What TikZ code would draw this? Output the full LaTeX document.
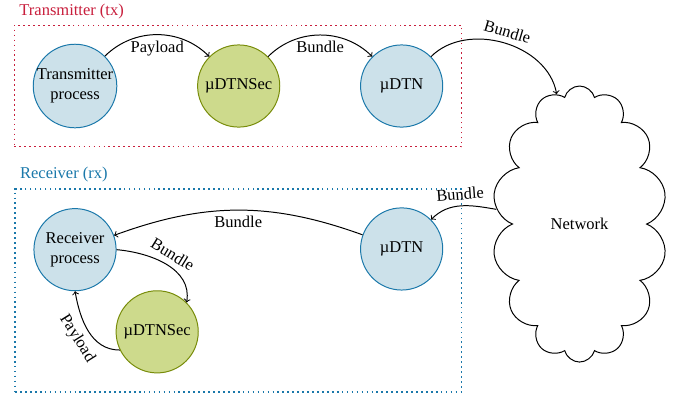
\documentclass[tikz,border=0pt]{standalone}
\usepackage{fontspec}
\setmainfont{Liberation Serif}
\usepackage{xcolor}
\usepackage{tikz}
\usetikzlibrary{positioning, shapes.symbols, fit, backgrounds}
\definecolor{tred}{RGB}{200,30,60}
\definecolor{tblue}{RGB}{26,120,170}
\definecolor{tbluelight}{RGB}{204,225,234}
\definecolor{tolive}{RGB}{120,140,10}
\definecolor{tolivelight}{RGB}{205,218,140}

\begin{document}
\begin{tikzpicture}[
  font=\normalsize,
  procnode/.style={circle, draw=tblue, fill=tbluelight, semithick,
                   minimum size=1.75cm, inner sep=0pt, align=center},
  secnode/.style={procnode, draw=tolive, fill=tolivelight},
  zone/.style={draw=#1, dotted, line width=1pt, inner sep=0.39cm},
  zonelab/.style={anchor=south west, text=#1},
  flow/.style={->, semithick}
]
\useasboundingbox (-1.598,1.832) rectangle (12.908,-6.539);

% ---- Transmitter side ----
\node[procnode] (tp) at (0,0) {Transmitter\\process};
\node[secnode, right=1.7cm of tp] (tsec) {µDTNSec};
\node[procnode, right=1.7cm of tsec] (tdtn) {µDTN};

% ---- Receiver side ----
\node[procnode, below=1.7cm of tp] (rp) {Receiver\\process};
\node[procnode, below=1.7cm of tdtn] (rdtn) {µDTN};
\node[secnode, on grid, below right=1.75cm and 1.75cm of rp] (rsec) {µDTNSec};

% ---- Network cloud ----
\node[cloud, draw, semithick, cloud puffs=14, cloud ignores aspect,
      minimum width=3.73cm, minimum height=5.88cm,
      on grid, below right=2.94cm and 3.79cm of tdtn] (net) {Network};

% ---- Flows ----
\draw[flow] (tp) to[bend left=45] node[below] {Payload} (tsec);
\draw[flow] (tsec) to[bend left=45] node[below] {Bundle} (tdtn);
\draw[flow] (tdtn.45) to[out=45, in=100] node[above, sloped] {Bundle} (net);
\draw[flow] (net) to[out=170, in=45] node[above, sloped] {Bundle} (rdtn.45);
\draw[flow] (rdtn) to[bend right=20] node[below] {Bundle} (rp);
\draw[flow] (rp.east) to[out=-5, in=80] node[above, sloped] {Bundle} (rsec.45);
\draw[flow] (rsec.206) to[out=180, in=-80] node[below, sloped] {Payload} (rp.south);

% ---- Zones ----
\begin{scope}[on background layer]
  \node[zone=tred, fit=(tp)(tdtn)] (txbox) {};
  \node[zone=tblue, fit=(rp)(rdtn)(rsec)] (rxbox) {};
\end{scope}
\node[zonelab=tred] (txlab) at (txbox.north west) {Transmitter (tx)};
\node[zonelab=tblue] (rxlab) at (rxbox.north west) {Receiver (rx)};

\end{tikzpicture}
\end{document}
